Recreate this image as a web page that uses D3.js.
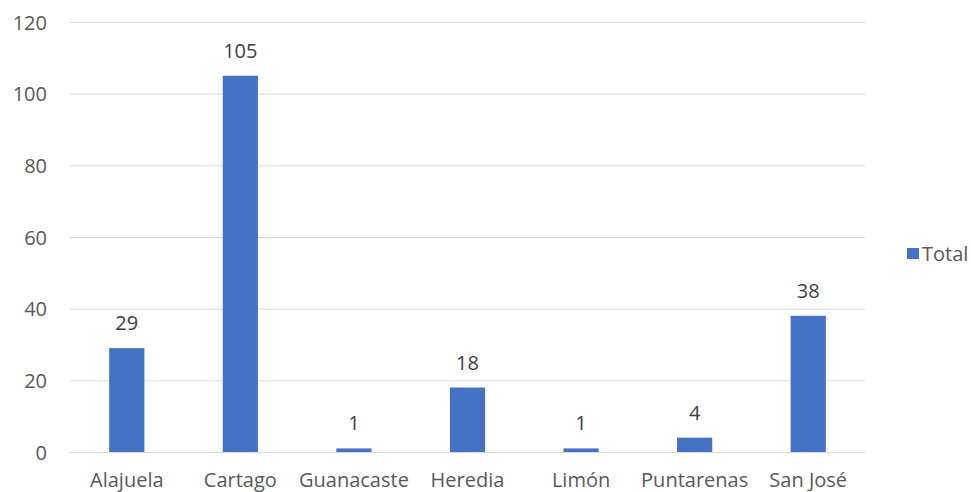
<!DOCTYPE html>
<html>
<head>
<meta charset="utf-8">
<script src="https://cdn.jsdelivr.net/npm/d3@7"></script>
<style>
  body { margin: 0; background: #fff; }
  svg { display: block; font-family: "Open Sans", sans-serif; }
</style>
</head>
<body>
<svg id="chart" width="971" height="492"></svg>
<script>
const categories = ["Alajuela", "Cartago", "Guanacaste", "Heredia", "Limón", "Puntarenas", "San José"];
const totals = [29, 105, 1, 18, 1, 4, 38];
const yTicks = [0, 20, 40, 60, 80, 100, 120];
const seriesName = "Total";

(function () {
const svg = d3.select("#chart");
const plotLeft = 70, plotRight = 865, plotTop = 22, plotBottom = 452;
const textColor = "#595959";

const x = d3.scaleBand().domain(categories).range([plotLeft, plotRight]).paddingInner(0.69).paddingOuter(0.345);
const y = d3.scaleLinear().domain([0, 120]).range([plotBottom, plotTop]);

// gridlines
svg.append("g").selectAll("line").data(yTicks).join("line")
  .attr("x1", plotLeft).attr("x2", plotRight)
  .attr("y1", d => y(d) + 0.5).attr("y2", d => y(d) + 0.5)
  .attr("stroke", "#d9d9d9").attr("stroke-width", 1);

// y axis labels
const yAxis = d3.axisLeft(y).tickValues(yTicks).tickSize(0).tickPadding(0);
const yg = svg.append("g").attr("transform", `translate(47,0)`).call(yAxis);
yg.select(".domain").remove();
yg.selectAll("text").attr("font-size", 20).attr("fill", textColor)
  .attr("font-family", "Open Sans, sans-serif").attr("dy", "0.35em");

// x axis labels
const xAxis = d3.axisBottom(x).tickSize(0).tickPadding(0);
const xg = svg.append("g").attr("transform", `translate(0,${plotBottom})`).call(xAxis);
xg.select(".domain").remove();
xg.selectAll("text").attr("font-size", 20).attr("fill", textColor)
  .attr("font-family", "Open Sans, sans-serif").attr("dy", null).attr("y", 35);

// bars
svg.append("g").selectAll("rect").data(categories).join("rect")
  .attr("x", d => x(d)).attr("width", x.bandwidth())
  .attr("y", (d, i) => y(totals[i]))
  .attr("height", (d, i) => y(0) - y(totals[i]))
  .attr("fill", "#4472C4");

// data labels
svg.append("g").selectAll("text").data(categories).join("text")
  .attr("x", d => x(d) + x.bandwidth() / 2)
  .attr("y", (d, i) => y(totals[i]) - 18)
  .attr("text-anchor", "middle")
  .attr("font-size", 20).attr("fill", "#404040")
  .text((d, i) => totals[i]);

// legend
const lg = svg.append("g");
lg.append("rect").attr("x", 907).attr("y", 248).attr("width", 12).attr("height", 11).attr("fill", "#4472C4");
lg.append("text").attr("x", 922).attr("y", 254).attr("dy", "0.35em")
  .attr("font-size", 20).attr("fill", textColor).text(seriesName);
})();
</script>
</body>
</html>
